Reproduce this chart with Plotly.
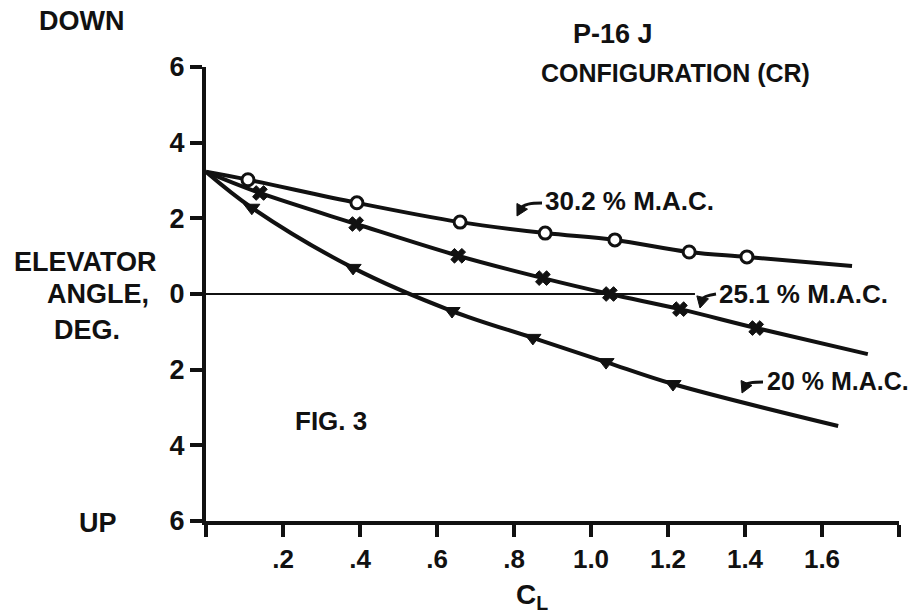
import math
import plotly.graph_objects as go

# ---- data ----
# C_L values and elevator angle (deg, down positive) at the plotted test points
cl_302 = [0.109, 0.392, 0.660, 0.881, 1.062, 1.255, 1.405]
de_302 = [3.02, 2.41, 1.90, 1.61, 1.43, 1.11, 0.98]
cl_251 = [0.140, 0.390, 0.655, 0.875, 1.049, 1.231, 1.429]
de_251 = [2.67, 1.85, 1.01, 0.42, 0.00, -0.40, -0.90]
cl_20 = [0.119, 0.382, 0.639, 0.849, 1.039, 1.213]
de_20 = [2.28, 0.69, -0.45, -1.16, -1.80, -2.38]

# faired curves: common origin and end of each curve
origin_cl, origin_de = 0.0, 3.23
end_302 = (1.678, 0.74)
end_251 = (1.719, -1.59)
end_20 = (1.642, -3.49)

x_tickvals = [0.2, 0.4, 0.6, 0.8, 1.0, 1.2, 1.4, 1.6]
x_ticktext = [".2", ".4", ".6", ".8", "1.0", "1.2", "1.4", "1.6"]
y_tickvals = [-6, -4, -2, 0, 2, 4, 6]
y_ticktext = ["6", "4", "2", "0", "2", "4", "6"]
zero_line_end = 1.27

FONT = "Liberation Sans"
BLACK = "#111111"

fig = go.Figure()

def curve(cls, des, end):
    xs = [origin_cl] + list(cls) + [end[0]]
    ys = [origin_de] + list(des) + [end[1]]
    fig.add_trace(go.Scatter(x=xs, y=ys, mode="lines",
                             line=dict(color=BLACK, width=4, shape="spline", smoothing=1.0),
                             hoverinfo="skip", showlegend=False))

# zero reference line
fig.add_trace(go.Scatter(x=[0, zero_line_end], y=[0, 0], mode="lines",
                         line=dict(color=BLACK, width=2), showlegend=False))

curve(cl_302, de_302, end_302)
curve(cl_251, de_251, end_251)
curve(cl_20, de_20, end_20)

fig.add_trace(go.Scatter(x=cl_302, y=de_302, mode="markers",
                         marker=dict(symbol="circle", size=12, color="white",
                                     line=dict(color=BLACK, width=3)),
                         name="30.2 % M.A.C.", showlegend=False))
fig.add_trace(go.Scatter(x=cl_251, y=de_251, mode="markers",
                         marker=dict(symbol="x", size=13, color=BLACK,
                                     line=dict(color=BLACK, width=1)),
                         name="25.1 % M.A.C.", showlegend=False))
fig.add_trace(go.Scatter(x=cl_20, y=de_20, mode="markers",
                         marker=dict(symbol="triangle-down", size=14, color=BLACK,
                                     line=dict(color=BLACK, width=1)),
                         name="20 % M.A.C.", showlegend=False))

# pixel -> paper helpers for placing text (layout only)
PL, PR, PT, PB = 206.0, 899.0, 67.0, 521.0
def px_x(px):
    return (px - PL) / (PR - PL)
def px_y(py):
    return (PB - py) / (PB - PT)

def label(text, px, py, size=26, xanchor="center"):
    fig.add_annotation(x=px_x(px), y=px_y(py), xref="paper", yref="paper",
                       text="<b>%s</b>" % text,
                       showarrow=False, xanchor=xanchor, yanchor="middle",
                       font=dict(family=FONT, size=size, color=BLACK))

def arrow(tip, tail, ctrl):
    # curved shaft + filled head, drawn as shapes in paper coordinates
    dxp, dyp = tip[0] - ctrl[0], tip[1] - ctrl[1]
    n = math.hypot(dxp, dyp)
    ux, uy = dxp / n, dyp / n
    hl, hw = 11.0, 6.0
    bx, by = tip[0] - ux * hl, tip[1] - uy * hl
    nx, ny = -uy, ux
    p = lambda x, y: "%.5f,%.5f" % (px_x(x), px_y(y))
    fig.add_shape(type="path", xref="paper", yref="paper",
                  path="M %s Q %s %s" % (p(*tail), p(*ctrl), p(bx + ux * 2, by + uy * 2)),
                  line=dict(color=BLACK, width=3))
    fig.add_shape(type="path", xref="paper", yref="paper",
                  path="M %s L %s L %s Z" % (p(*tip), p(bx + nx * hw, by + ny * hw),
                                             p(bx - nx * hw, by - ny * hw)),
                  line=dict(color=BLACK, width=1), fillcolor=BLACK)

label("DOWN", 81, 21, size=27)
label("ELEVATOR", 85, 262, size=27)
label("ANGLE,", 151, 294, size=27, xanchor="right")
label("DEG.", 87, 330, size=27)
label("UP", 98, 523, size=27)
label("P-16 J", 613, 34, size=27)
label("CONFIGURATION (CR)", 675, 73, size=25)
label("FIG. 3", 331, 421)
label("C<sub>L</sub>", 532, 596, size=28)

label("30.2 % M.A.C.", 543, 201, xanchor="left")
label("25.1 % M.A.C.", 717, 294, xanchor="left")
label("20 % M.A.C.", 765, 381, size=25, xanchor="left")
arrow((517, 216), (542, 203), (524, 203))
arrow((700, 308), (716, 294), (703, 296))
arrow((742, 393), (763, 382), (747, 382))

fig.update_layout(
    width=914, height=616,
    margin=dict(l=206, r=15, t=67, b=95),
    paper_bgcolor="white", plot_bgcolor="white",
    showlegend=False,
    font=dict(family=FONT, size=26, color=BLACK, weight="bold"),
)
fig.update_xaxes(range=[0, 1.8], tickvals=x_tickvals, ticktext=x_ticktext,
                 showgrid=False, zeroline=False, showline=True, linewidth=4, linecolor=BLACK,
                 ticks="outside", ticklen=12, tickwidth=4, tickcolor=BLACK,
                 minor=dict(tick0=0, dtick=0.2, ticks="outside", ticklen=12, tickwidth=4,
                            tickcolor=BLACK, showgrid=False),
                 tickfont=dict(family=FONT, size=26, color=BLACK, weight="bold"))
fig.update_yaxes(range=[-6, 6], tickvals=y_tickvals, ticktext=y_ticktext,
                 showgrid=False, zeroline=False, showline=True, linewidth=4, linecolor=BLACK,
                 ticks="outside", ticklen=12, tickwidth=4, tickcolor=BLACK,
                 tickfont=dict(family=FONT, size=27, color=BLACK, weight="bold"))

fig.write_html("out.html")
